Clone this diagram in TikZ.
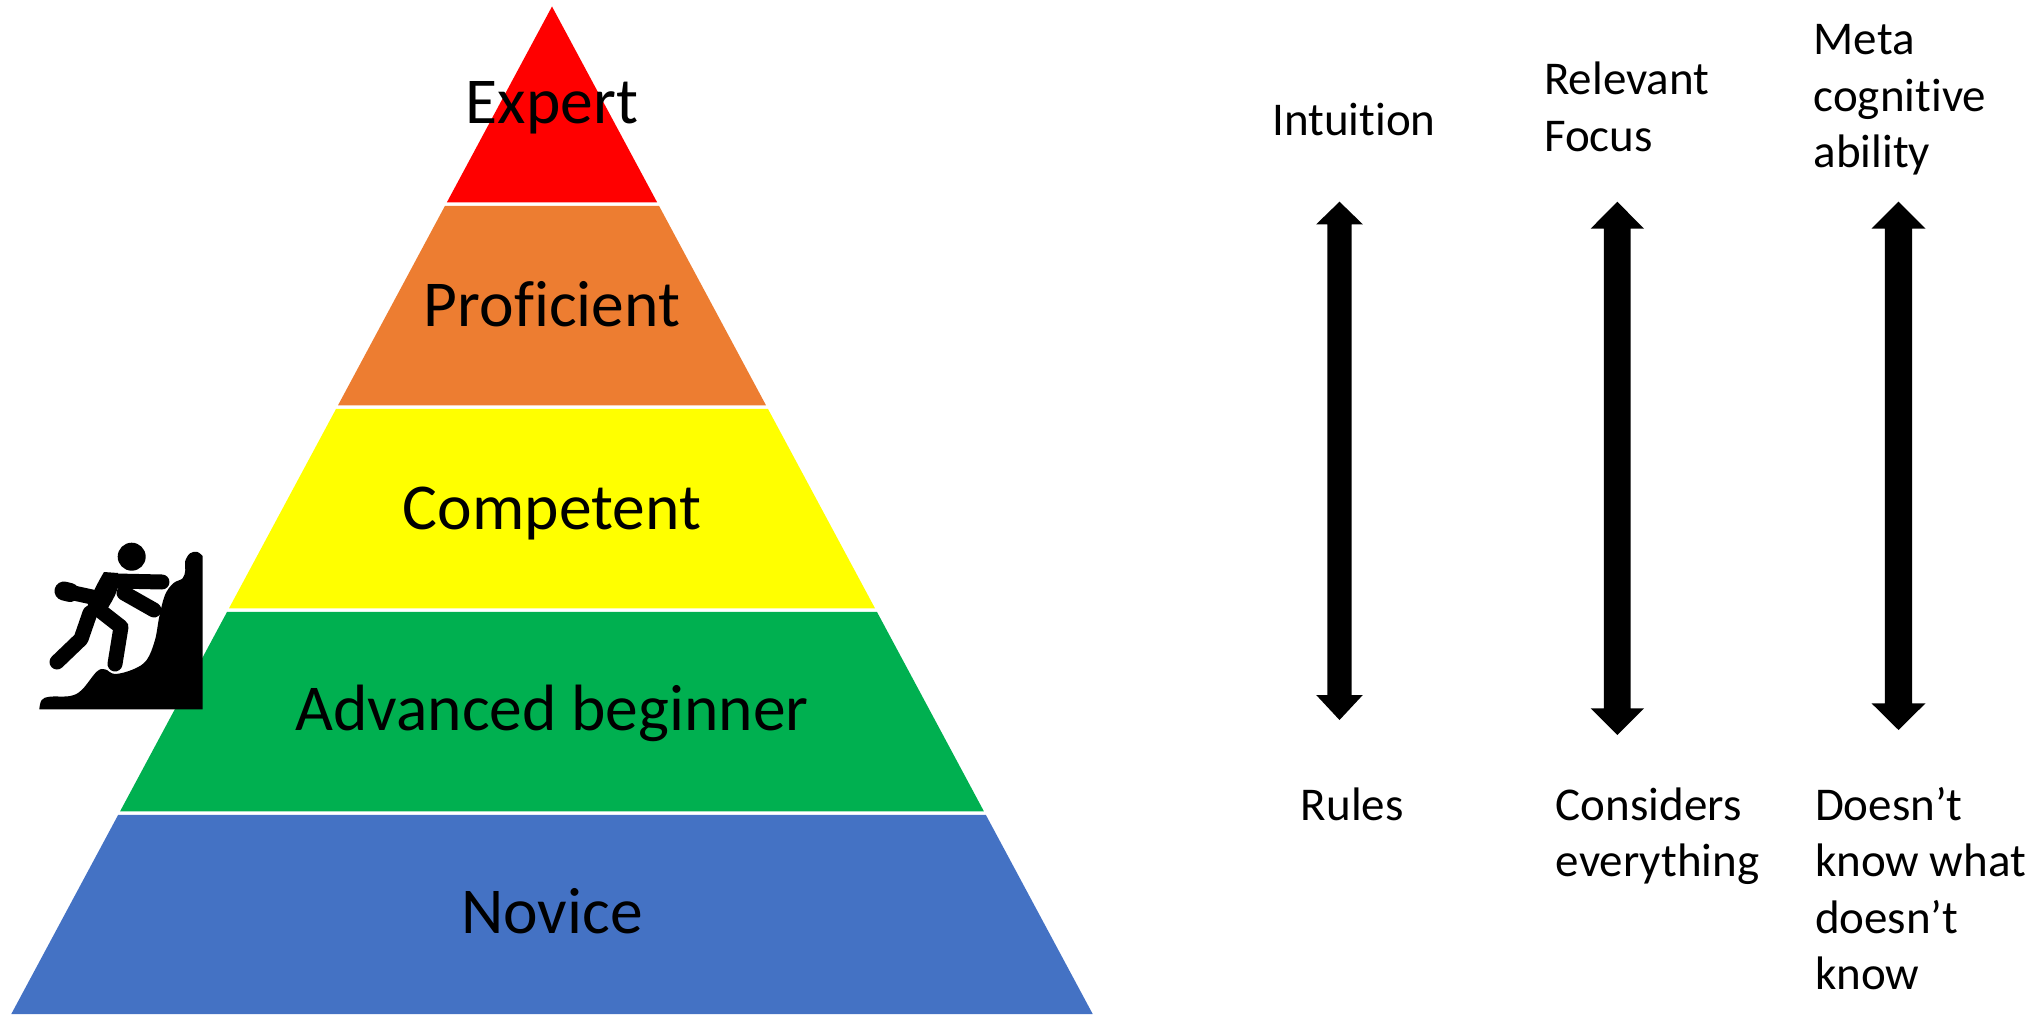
\documentclass[tikz,border=0pt]{standalone}
\usepackage{fontspec}
\setmainfont{Carlito}[Ligatures=NoCommon]
\definecolor{cRed}{HTML}{FF0000}
\definecolor{cOrange}{HTML}{ED7D31}
\definecolor{cYellow}{HTML}{FFFF00}
\definecolor{cGreen}{HTML}{00B050}
\definecolor{cBlue}{HTML}{4472C4}
% x, ytop, ybot, head half width, top head length, bottom head length, shaft half width
\newcommand\blockarr[7]{%
  \fill[black] (#1,#2) -- ({#1+#4},{#2+#5}) -- ({#1+#7},{#2+#5}) -- ({#1+#7},{#3-#6})
    -- ({#1+#4},{#3-#6}) -- (#1,#3) -- ({#1-#4},{#3-#6}) -- ({#1-#7},{#3-#6})
    -- ({#1-#7},{#2+#5}) -- ({#1-#4},{#2+#5}) -- cycle;}
\begin{document}
\begin{tikzpicture}[x=0.5pt,y=-0.5pt,
  lvl/.style={inner sep=0pt,anchor=base,font=\fontsize{32.75}{39}\selectfont},
  side/.style={inner sep=0pt,anchor=base west,font=\fontsize{23.5}{28.3}\selectfont},
  limb/.style={line width=7.5pt,line cap=round,line join=round,black}]
\useasboundingbox (0,0) rectangle (2041,1016);
% pyramid bands
\fill[cRed]    (552,6.5) -- (657.1,202.3) -- (446.9,202.3) -- cycle;
\fill[cOrange] (445,205.8) -- (659,205.8) -- (766,405.3) -- (338,405.3) -- cycle;
\fill[cYellow] (336.1,408.8) -- (767.9,408.8) -- (875,608.3) -- (229,608.3) -- cycle;
\fill[cGreen]  (227.1,611.8) -- (876.9,611.8) -- (983.9,811.3) -- (120.1,811.3) -- cycle;
\fill[cBlue]   (118.2,814.8) -- (985.8,814.8) -- (1092.7,1014) -- (11.3,1014) -- cycle;
% labels
\node[lvl] (expert) at (552,123.7) {Expert};
\node[lvl] (prof)   at (552,326.7) {Proficient};
\node[lvl] (comp)   at (552,529.8) {Competent};
\node[lvl] (adv)    at (552,730)   {Advanced beginner};
\node[lvl] (nov)    at (552,933)   {Novice};
% climber icon
\fill[black] plot[smooth,tension=0.6] coordinates {(39.3,709.3) (41.7,700) (50,696.7) (70,696)
  (81.7,690) (96.7,671.7) (105,669.3) (115,674) (133.3,669.3) (146.7,660) (155,640)
  (159.3,616.7) (165,595) (173.3,583.3) (182.7,578.3) (185.3,570) (185,561.7) (190,553.3)
  (197.3,552) (202.7,556)} -- (202.7,709.3) -- cycle;
\fill[black] (131.7,556.7) circle[radius=14];
\fill[black] (104,572) -- (118,573) to[out=-80,in=60] (103,616) -- (86,610) to[out=70,in=-120] cycle;
\draw[limb] (116,581) -- (162,582);
\draw[limb] (124,593) -- (154,610);
\draw[limb] (92,597) -- (69,592);
\draw[limb,line width=9.5pt] (70,592.5) -- (64,591);
\draw[limb] (90,613) -- (81,639) -- (57,662);
\draw[limb] (98,609) -- (121,627) -- (115,664);
% arrows
\blockarr{1339.5}{201.7}{720}{23.3}{22.6}{25}{12.2}
\blockarr{1617.3}{201.7}{735}{26.7}{27}{26.7}{13.4}
\blockarr{1898.5}{201.7}{730}{27}{27}{26.7}{13.7}
% side texts
\node[side] (intu) at (1271.8,135.4) {Intuition};
\node[side] (relf) at (1543.8,95)   {\vtop{\hbox{Relevant}\hbox{Focus}}};
\node[side] (meta) at (1813.3,54.7) {\vtop{\hbox{Meta}\hbox{cognitive}\hbox{ability}}};
\node[side] (rule) at (1300.4,820)  {Rules};
\node[side] (cons) at (1555.5,820)  {\vtop{\hbox{Considers}\hbox{everything}}};
\node[side] (dnk)  at (1814.6,820)  {\vtop{\hbox{Doesn’t}\hbox{know what}\hbox{doesn’t}\hbox{know}}};
\end{tikzpicture}
\end{document}
